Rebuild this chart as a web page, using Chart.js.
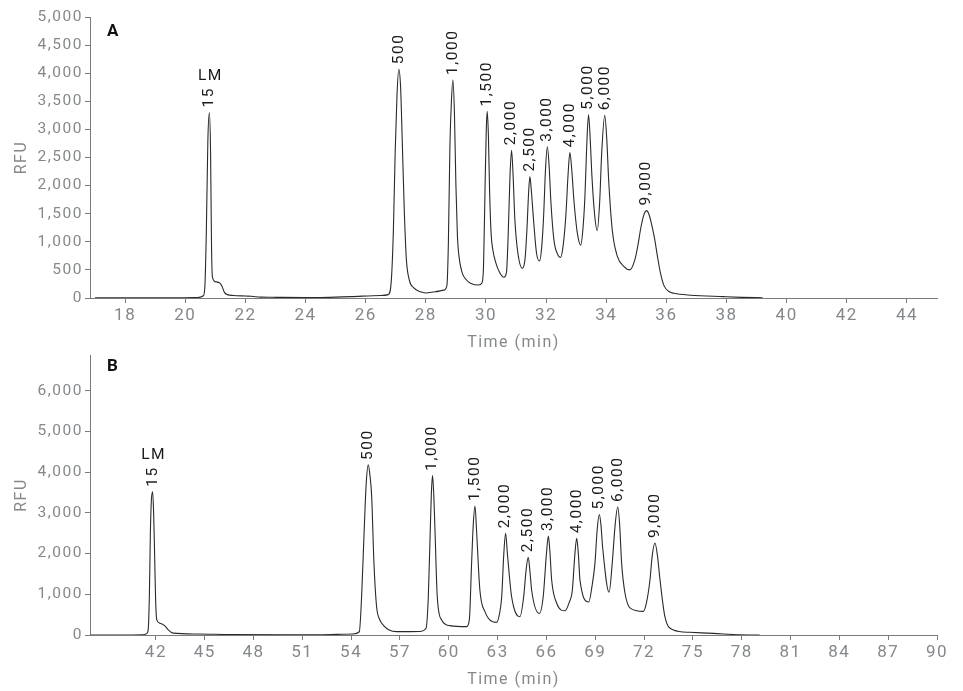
<!DOCTYPE html>
<html>
<head>
<meta charset="utf-8">
<title>RFU vs time</title>
<script src="https://cdn.jsdelivr.net/npm/chart.js@4.4.1/dist/chart.umd.min.js"></script>
<style>
  body { margin: 0; background: #fff; }
  canvas { position: absolute; left: 0; }
  #chartA { top: 0; }
  #chartB { top: 340px; }
</style>
</head>
<body>
<canvas id="chartA" width="963" height="355"></canvas>
<canvas id="chartB" width="963" height="351"></canvas>
<script>
// panel A trace (time in min, RFU)
const timeA = [17.0, 18.0, 19.0, 20.0, 20.4, 20.6, 20.65, 20.7, 20.75, 20.8, 20.84, 20.87, 20.9, 21.0, 21.15, 21.22, 21.3, 21.4, 21.6, 22.0, 22.2, 22.5, 23.0, 24.0, 24.5, 25.5, 26.5, 26.75,
  26.85, 26.92, 26.98, 27.04, 27.1, 27.16, 27.22, 27.28, 27.35, 27.45, 27.6, 27.82, 28.0, 28.3, 28.6, 28.7,
  28.75, 28.8, 28.85, 28.9, 28.95, 29.0, 29.05, 29.1, 29.2, 29.35, 29.5, 29.75, 29.87,
  29.92, 29.97, 30.01, 30.04, 30.08, 30.12, 30.17, 30.23, 30.32, 30.45, 30.6,
  30.68, 30.74, 30.8, 30.85, 30.9, 30.96, 31.06, 31.21,
  31.3, 31.36, 31.42, 31.46, 31.51, 31.58, 31.68, 31.78,
  31.86, 31.92, 31.98, 32.04, 32.1, 32.16, 32.26, 32.38, 32.48,
  32.57, 32.66, 32.73, 32.79, 32.85, 32.93, 33.04, 33.15,
  33.22, 33.29, 33.35, 33.41, 33.46, 33.52, 33.61, 33.7,
  33.78, 33.85, 33.95, 34.02, 34.08, 34.2, 34.37, 34.59, 34.78,
  34.95, 35.05, 35.15, 35.25, 35.34, 35.42, 35.5, 35.6, 35.7, 35.8, 35.92, 36.1, 36.25, 36.8, 37.9, 38.5, 39.2];
const rfuA = [5, 5, 5, 5, 8, 40, 200, 1200, 2800, 3300, 2600, 1000, 380, 290, 265, 210, 100, 60, 45, 35, 30, 15, 12, 10, 10, 25, 45, 60,
  300, 1200, 2600, 3600, 4070, 3750, 2700, 1600, 700, 320, 180, 110, 90, 110, 140, 220,
  1000, 2700, 3500, 3880, 3300, 2000, 1100, 750, 460, 320, 260, 230, 270,
  600, 2000, 3000, 3320, 2900, 1900, 1150, 850, 640, 460, 370,
  450, 1150, 2200, 2630, 2200, 1400, 800, 530,
  700, 1200, 1900, 2160, 1900, 1400, 800, 660,
  950, 1500, 2300, 2690, 2350, 1700, 1030, 780, 720,
  950, 1500, 2200, 2590, 2300, 1700, 1150, 940,
  1200, 1800, 2700, 3260, 2900, 2200, 1500, 1200,
  1700, 2600, 3250, 2800, 2100, 1210, 740, 560, 500,
  680, 930, 1250, 1480, 1555, 1490, 1330, 1080, 750, 450, 220, 110, 84, 50, 24, 12, 5];

// panel B trace
const timeB = [38.0, 40.0, 41.2, 41.45, 41.53, 41.6, 41.66, 41.72, 41.8, 41.86, 41.92, 41.98, 42.05, 42.25, 42.55, 42.76, 43.06, 44.5, 46.6, 50.0, 52.0, 54.1, 54.5,
  54.64, 54.8, 54.92, 55.05, 55.16, 55.26, 55.4, 55.56, 55.75, 55.97, 56.3, 56.8, 58.2, 58.6,
  58.74, 58.86, 58.93, 59.0, 59.08, 59.15, 59.29, 59.56, 60.07, 61.1,
  61.26, 61.4, 61.5, 61.61, 61.7, 61.91, 62.22, 62.94,
  63.15, 63.25, 63.38, 63.49, 63.6, 63.86, 64.37,
  64.6, 64.75, 64.88, 65.0, 65.09, 65.56,
  65.8, 66.0, 66.12, 66.22, 66.32, 66.63, 67.14,
  67.4, 67.59, 67.75, 67.86, 67.96, 68.06, 68.6,
  68.8, 68.98, 69.12, 69.25, 69.35, 69.45, 69.85,
  70.05, 70.22, 70.38, 70.5, 70.62, 70.83, 71.15, 71.95,
  72.15, 72.36, 72.5, 72.67, 72.82, 72.98, 73.28, 73.8, 74.8, 76.25, 77.9, 79.1];
const rfuB = [0, 0, 5, 40, 150, 1000, 2500, 3300, 3520, 3000, 2000, 900, 380, 290, 225, 125, 45, 25, 10, 5, 5, 25, 80,
  940, 2580, 3700, 4180, 3900, 3400, 1760, 700, 380, 245, 130, 82, 85, 165,
  940, 2580, 3500, 3915, 3400, 2580, 940, 370, 230, 205,
  370, 1760, 2700, 3170, 2600, 1100, 575, 310,
  600, 940, 2000, 2500, 2000, 940, 450,
  940, 1600, 1910, 1500, 1100, 530,
  940, 2000, 2430, 2000, 1350, 780, 595,
  800, 1100, 2000, 2375, 2000, 1350, 810,
  1200, 1760, 2600, 2960, 2700, 2170, 1050,
  1800, 2700, 3145, 2700, 1760, 1020, 660, 580,
  800, 1350, 1950, 2260, 1950, 1350, 450, 125, 66, 40, 5, 0];

const peakLabels = ["15", "500", "1,000", "1,500", "2,000", "2,500", "3,000", "4,000", "5,000", "6,000", "9,000"];
const peakTimesA = [20.8, 27.1, 28.9, 30.04, 30.85, 31.46, 32.04, 32.79, 33.41, 33.95, 35.34];
const peakTimesB = [41.8, 55.05, 59.0, 61.61, 63.49, 64.88, 66.12, 67.86, 69.25, 70.38, 72.67];

const xTicksA = [18, 20, 22, 24, 26, 28, 30, 32, 34, 36, 38, 40, 42, 44];
const xTicksB = [42, 45, 48, 51, 54, 57, 60, 63, 66, 69, 72, 75, 78, 81, 84, 87, 90];
const yTicksA = [0, 500, 1000, 1500, 2000, 2500, 3000, 3500, 4000, 4500, 5000];
const yTicksB = [0, 1000, 2000, 3000, 4000, 5000, 6000];

const gray = "#85888b";
const axisColor = "#7a7a7a";

// canvas letter spacing so labels match the wide look of the original
const spacing = {
  id: "spacing",
  beforeUpdate(chart) { chart.ctx.letterSpacing = "1.5px"; },
  beforeDraw(chart) { chart.ctx.letterSpacing = "1.5px"; }
};

const peakText = {
  id: "peakText",
  afterDatasetsDraw(chart, args, opts) {
    const { ctx, scales, chartArea } = chart;
    const ds = chart.data.datasets[0].data;
    ctx.save();
    ctx.fillStyle = "#1a1a1a";
    ctx.font = "15.5px Roboto";
    opts.times.forEach((t, i) => {
      const pt = ds.find(p => p.x === t);
      const x = scales.x.getPixelForValue(t);
      const y = scales.y.getPixelForValue(pt.y) - 5;
      ctx.save();
      ctx.translate(x, y);
      ctx.rotate(-Math.PI / 2);
      ctx.textAlign = "left";
      ctx.textBaseline = "middle";
      ctx.fillText(opts.labels[i], 0, 0);
      ctx.restore();
      if (i === 0) {
        const w = ctx.measureText(opts.labels[i]).width;
        ctx.textAlign = "center";
        ctx.textBaseline = "alphabetic";
        ctx.fillText("LM", x + 1, y - w - 7);
      }
    });
    ctx.font = "bold 17px Roboto";
    ctx.fillStyle = "#111";
    ctx.textAlign = "left";
    ctx.textBaseline = "middle";
    ctx.fillText(opts.panel, chartArea.left + 17, chartArea.top + opts.panelDy);
    ctx.restore();
  }
};

function makeChart(id, times, rfu, opts) {
  const points = times.map((t, i) => ({ x: t, y: rfu[i] }));
  return new Chart(document.getElementById(id), {
    type: "line",
    data: {
      datasets: [{
        data: points,
        borderColor: "#2a2a2a",
        borderWidth: 1.1,
        pointRadius: 0,
        cubicInterpolationMode: "monotone",
        fill: false
      }]
    },
    plugins: [spacing, peakText],
    options: {
      responsive: false,
      animation: false,
      devicePixelRatio: 1,
      layout: { padding: { top: opts.padTop, right: 26, bottom: 0, left: 0 } },
      plugins: {
        legend: { display: false },
        tooltip: { enabled: false },
        peakText: { times: opts.peaks, labels: peakLabels, panel: opts.panel, panelDy: opts.panelDy }
      },
      scales: {
        x: {
          type: "linear",
          min: opts.xMin,
          max: opts.xMax,
          afterBuildTicks: s => { s.ticks = opts.xTicks.map(v => ({ value: v })); },
          afterFit: s => { s.height = opts.xHeight; },
          ticks: { color: gray, font: { family: "Roboto", size: 17 }, padding: 3, autoSkip: false, maxRotation: 0, callback: v => String(v) },
          grid: { drawOnChartArea: false, color: axisColor, tickLength: 5 },
          border: { color: axisColor },
          title: { display: true, text: "Time (min)", color: gray, font: { family: "Roboto", size: 16 }, padding: { top: 0, bottom: opts.titlePad } }
        },
        y: {
          type: "linear",
          min: 0,
          max: opts.yMax,
          afterBuildTicks: s => { s.ticks = opts.yTicks.map(v => ({ value: v })); },
          afterFit: s => { s.width = 90; },
          ticks: { color: gray, font: { family: "Roboto", size: 15.5 }, padding: 2, callback: v => v.toLocaleString("en-US") },
          grid: { drawOnChartArea: false, color: axisColor, tickLength: 5 },
          border: { color: axisColor },
          title: { display: true, text: "RFU", color: gray, font: { family: "Roboto", size: 16 }, padding: { top: 12, bottom: 0 } }
        }
      }
    }
  });
}

makeChart("chartA", timeA, rfuA, {
  padTop: 17, xHeight: 57, titlePad: 2, xMin: 16.83, xMax: 45, xTicks: xTicksA,
  yMax: 5000, yTicks: yTicksA, peaks: peakTimesA, panel: "A", panelDy: 15
});
makeChart("chartB", timeB, rfuB, {
  padTop: 15, xHeight: 56, titlePad: 1, xMin: 37.95, xMax: 90, xTicks: xTicksB,
  yMax: 6880, yTicks: yTicksB, peaks: peakTimesB, panel: "B", panelDy: 12
});
</script>
</body>
</html>
